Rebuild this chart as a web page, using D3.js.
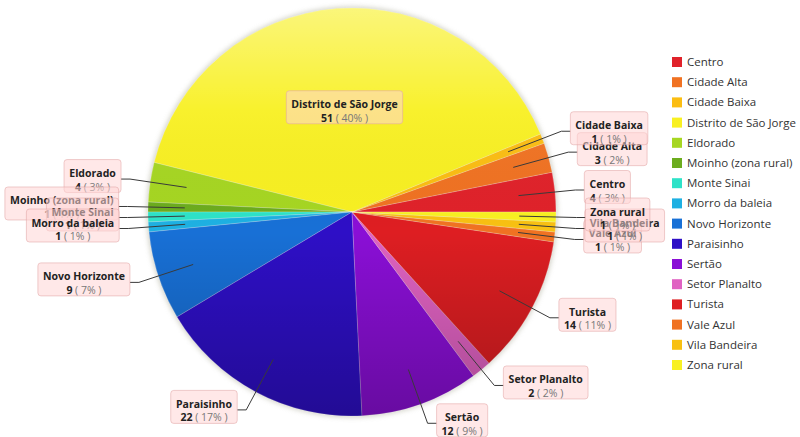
<!DOCTYPE html>
<html><head><meta charset="utf-8">
<script src="https://cdn.jsdelivr.net/npm/d3@7"></script>
<style>
body{margin:0;background:#fff}
svg{display:block}
text{font-family:"Open Sans","Noto Sans",sans-serif}
</style></head>
<body><svg id="c" width="800" height="437"></svg>
<script>
const categories = ["Centro","Cidade Alta","Cidade Baixa","Distrito de São Jorge","Eldorado","Moinho (zona rural)","Monte Sinai","Morro da baleia","Novo Horizonte","Paraisinho","Sertão","Setor Planalto","Turista","Vale Azul","Vila Bandeira","Zona rural"];
const values = [4,3,1,51,4,1,1,1,9,22,12,2,14,1,1,1];
const colors = ["#e0222a","#f07222","#fbbd12","#f8f022","#a6d622","#6cac1e","#2ee2c8","#1eb0e2","#1870d6","#2e0fc6","#8a0fd6","#e062c2","#de1e22","#f07222","#f8c012","#f8f022"];

const cx = 352, cy = 212, R = 204;
const svg = d3.select("#c");
const total = d3.sum(values);
const data = categories.map((c,i)=>({name:c, value:values[i], color:colors[i], i}));

const defs = svg.append("defs");
const f = defs.append("filter").attr("id","sh").attr("x","-10%").attr("y","-10%").attr("width","120%").attr("height","120%");
f.append("feGaussianBlur").attr("stdDeviation",2.5);
const lg = defs.append("linearGradient").attr("id","shade").attr("x1",0).attr("y1",0).attr("x2",0).attr("y2",1);
lg.append("stop").attr("offset","0%").attr("stop-color","#fff").attr("stop-opacity",0.4);
lg.append("stop").attr("offset","25%").attr("stop-color","#fff").attr("stop-opacity",0.05);
lg.append("stop").attr("offset","55%").attr("stop-color","#000").attr("stop-opacity",0);
lg.append("stop").attr("offset","100%").attr("stop-color","#000").attr("stop-opacity",0.25);

const pie = d3.pie().value(d=>d.value).sort(null)
  .startAngle(Math.PI/2).endAngle(Math.PI/2 - 2*Math.PI);
const arcs = pie(data);
const arc = d3.arc().innerRadius(0).outerRadius(R);

const g = svg.append("g").attr("transform",`translate(${cx},${cy})`);
g.append("circle").attr("r",R+1.5).attr("fill","#b8b8a8").attr("filter","url(#sh)").attr("opacity",0.6);
g.selectAll("path.s").data(arcs).join("path").attr("class","s")
  .attr("d",arc).attr("fill",d=>d.data.color)
  .attr("stroke","rgba(255,255,255,0.35)").attr("stroke-width",0.6);
g.append("circle").attr("r",R).attr("fill","url(#shade)");

const pt = (a,r)=>[Math.sin(a)*r, -Math.cos(a)*r];
const lab = svg.append("g");
arcs.forEach(d=>{
  const mid = (d.startAngle+d.endAngle)/2;
  const pct = Math.round(d.data.value/total*100);
  const inside = d.data.value/total > 0.3;
  const gg = lab.append("g");
  let bx, by, anchorSide;
  if (inside) {
    const c = arc.centroid(d);
    bx = cx + c[0]; by = cy + c[1]; anchorSide = 0;
  } else {
    const p0 = pt(mid, R*0.82), p1 = pt(mid, R*1.1);
    const right = p1[0] >= 0;
    const x2 = p1[0] + (right ? 9 : -9);
    gg.append("polyline")
      .attr("points",[[cx+p0[0],cy+p0[1]],[cx+p1[0],cy+p1[1]],[cx+x2,cy+p1[1]]].map(p=>p.join(",")).join(" "))
      .attr("fill","none").attr("stroke","#3a3a3a").attr("stroke-width",1);
    bx = cx + x2; by = cy + p1[1]; anchorSide = right ? 1 : -1;
  }
  const box = gg.append("rect");
  const t = gg.append("text").attr("text-anchor","middle").attr("font-size",10.5);
  t.append("tspan").attr("x",0).attr("dy",-2).attr("font-weight","bold").attr("fill","#222").text(d.data.name);
  const t2 = t.append("tspan").attr("x",0).attr("dy",13.5);
  t2.append("tspan").attr("font-weight","bold").attr("fill","#222").text(d.data.value);
  t2.append("tspan").attr("fill","#777").text(` ( ${pct}% )`);
  const bb = t.node().getBBox();
  const w = bb.width + 10, h = 33;
  let ox;
  if (anchorSide === 1) ox = bx + w/2;
  else if (anchorSide === -1) ox = bx - w/2;
  else ox = bx;
  t.attr("transform",`translate(${ox},${by})`);
  box.attr("x",ox - w/2).attr("y",by - h/2 - 3).attr("width",w).attr("height",h)
    .attr("rx",3).attr("fill","rgba(255,214,214,0.55)").attr("stroke","rgba(225,165,165,0.55)").attr("stroke-width",1);
});

const leg = svg.append("g");
categories.forEach((c,i)=>{
  const y = 62 + i*20.2;
  leg.append("rect").attr("x",672).attr("y",y-5).attr("width",10).attr("height",10).attr("fill",colors[i]);
  leg.append("text").attr("x",687).attr("y",y+4).attr("font-size",11.5).attr("fill","#333").text(c);
});
</script></body></html>
